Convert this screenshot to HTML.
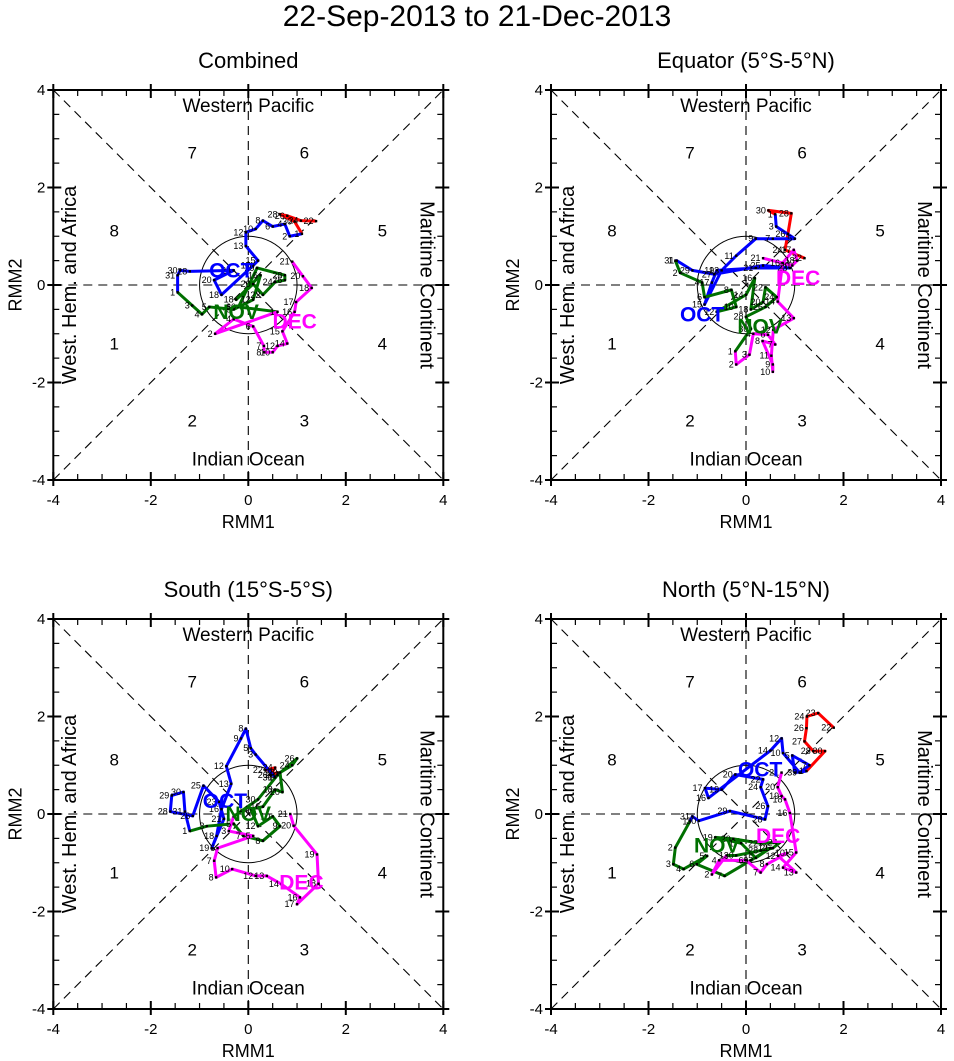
<!DOCTYPE html>
<html><head><meta charset="utf-8"><style>
html,body{margin:0;padding:0;background:#fff;}
svg{display:block;font-family:"Liberation Sans",Helvetica,Arial,sans-serif;}
</style></head><body>
<svg id="chart" width="954" height="1061" viewBox="0 0 954 1061" xmlns="http://www.w3.org/2000/svg">
<text x="477" y="26" text-anchor="middle" font-size="30">22-Sep-2013 to 21-Dec-2013</text>
</svg>
<script>
// ---------- Data (RMM1, RMM2) ----------
const p1SepDays=[22,24,26,28,30];
const p1SepX=[1.39,1.08,0.8,0.65,0.95];
const p1SepY=[1.31,1.32,1.42,1.45,1.3];
const p1OctDays=[1,2,4,6,8,10,12,13,15,17,18,20,24,28,30,31];
const p1OctX=[1.1,0.85,0.75,0.5,0.3,0.15,-0.05,-0.05,0.2,0.1,-0.55,-0.7,-0.3,-1.2,-1.4,-1.45];
const p1OctY=[1.05,1.0,1.25,1.2,1.32,1.15,1.08,0.8,0.5,0.4,-0.2,0.1,0.3,0.28,0.3,0.2];
const p1NovDays=[1,3,4,5,8,12,16,18,20,22,24,26,28,29,30];
const p1NovX=[-1.45,-1.15,-0.95,-0.8,-0.3,0.1,0.25,-0.25,0.1,0.3,0.55,0.75,0.75,0.18,-0.2];
const p1NovY=[-0.15,-0.42,-0.6,-0.45,-0.5,-0.3,0.2,-0.3,0.02,-0.2,0.06,0.1,0.2,0.35,-0.45];
const p1DecDays=[1,2,4,6,7,8,10,12,14,15,16,17,18,20,21];
const p1DecX=[0.6,-0.68,-0.3,0.1,0.32,0.32,0.5,0.6,0.8,0.7,0.95,0.98,1.3,1.12,0.9];
const p1DecY=[-0.55,-1.0,-0.7,-0.85,-1.25,-1.38,-1.38,-1.25,-1.2,-0.95,-0.55,-0.35,-0.06,0.18,0.48];

const p2SepDays=[22,24,26,28,30];
const p2SepX=[1.2,0.8,0.86,0.93,0.46];
const p2SepY=[0.55,0.72,1.05,1.47,1.53];
const p2OctDays=[1,3,5,7,9,11,13,15,17,19,21,23,25,27,29,31];
const p2OctX=[0.6,0.62,1.0,0.55,0.2,-0.2,-0.5,-0.85,-0.7,-0.6,0.2,0.9,0.35,-0.65,-1.1,-1.42];
const p2OctY=[1.45,1.2,0.95,0.95,0.95,0.6,0.3,-0.4,0.05,0.3,0.35,0.35,0.4,0.22,0.3,0.5];
const p2NovDays=[1,2,4,6,8,10,12,14,16,18,20,22,24,26,28,30];
const p2NovX=[-1.45,-1.35,-0.9,-0.85,-0.3,-0.2,-0.6,0.0,0.18,0.1,0.35,0.4,0.63,0.4,0.0,0.1];
const p2NovY=[0.5,0.25,0.05,-0.25,-0.1,-0.45,-0.55,-0.2,0.14,-0.5,-0.35,-0.05,-0.25,-0.45,-0.65,-0.9];
const p2DecDays=[1,2,3,4,6,7,8,9,10,11,12,13,14,16,17,18,20,21];
const p2DecX=[-0.22,-0.2,0.07,0.15,0.45,0.6,0.34,0.55,0.55,0.52,0.56,0.98,0.65,0.75,0.98,1.05,0.95,0.35];
const p2DecY=[-1.36,-1.63,-1.43,-1.0,-1.02,-1.22,-1.15,-1.63,-1.78,-1.45,-0.92,-0.68,-0.34,0.45,0.72,0.5,0.4,0.55];

const p3SepDays=[22,24,26,28,30];
const p3SepX=[0.35,0.55,0.45,0.6,0.55];
const p3SepY=[0.9,0.95,0.8,0.85,0.75];
const p3OctDays=[1,3,5,8,9,12,13,16,18,19,21,23,25,26,28,29,30,31];
const p3OctX=[0.55,0.15,0.05,-0.05,-0.15,-0.45,-0.35,-0.55,-0.65,-0.75,-0.5,-0.6,-0.92,-1.14,-1.6,-1.57,-1.33,-1.3];
const p3OctY=[0.75,1.22,1.35,1.75,1.55,0.98,0.62,0.1,-0.45,-0.7,-0.1,0.25,0.58,-0.04,0.05,0.38,0.45,0.05];
const p3NovDays=[1,3,5,7,8,9,10,12,14,16,18,20,22,24,26,28,30];
const p3NovX=[-1.2,-0.85,-0.3,-0.1,0.3,0.65,0.5,0.2,0.05,0.3,0.55,0.7,0.65,0.9,1.0,0.6,0.2];
const p3NovY=[-0.35,-0.25,-0.2,-0.45,-0.55,-0.25,-0.05,-0.25,0.1,0.15,0.5,0.45,0.85,1.0,1.14,0.8,0.3];
const p3DecDays=[1,3,5,6,7,8,10,12,13,14,16,17,18,19,20,21];
const p3DecX=[-0.3,-0.4,0.1,-0.63,-0.7,-0.66,-0.33,0.15,0.38,0.68,1.06,1.0,1.44,1.41,0.93,0.86];
const p3DecY=[-0.05,-0.35,-0.45,-0.7,-0.96,-1.3,-1.13,-1.27,-1.27,-1.44,-1.71,-1.85,-1.43,-0.83,-0.24,0.0];

const p4SepDays=[22,23,24,26,27,28,30];
const p4SepX=[1.8,1.48,1.25,1.24,1.2,1.38,1.62];
const p4SepY=[1.77,2.07,2.0,1.76,1.49,1.29,1.29];
const p4OctDays=[1,3,5,7,9,10,12,14,16,17,19,20,22,24,26,28,29,30,31];
const p4OctX=[1.24,1.0,0.95,1.3,1.1,0.76,0.73,0.5,-0.77,-0.84,-0.5,-0.22,0.35,0.3,0.45,0.39,-0.33,-0.97,-1.1];
const p4OctY=[0.88,0.85,1.2,1.0,0.85,1.25,1.55,1.3,0.33,0.53,0.5,0.81,0.71,0.55,0.16,-0.11,0.06,-0.14,-0.05];
const p4NovDays=[1,2,3,4,5,6,7,9,12,15,17,19,20,22,24,26,28,30];
const p4NovX=[-1.15,-1.45,-1.49,-1.28,-0.8,-1.01,-0.44,0.1,0.5,0.2,-0.1,-0.63,-0.26,0.3,0.7,0.55,0.3,-0.2];
const p4NovY=[-0.15,-0.69,-1.03,-1.13,-0.86,-1.03,-1.27,-0.95,-0.7,-0.9,-0.6,-0.48,-0.51,-0.6,-0.58,-0.7,-0.75,-0.85];
const p4DecDays=[1,2,4,6,7,8,10,12,13,14,15,16,18,19,20,21];
const p4DecX=[-0.4,-0.7,-0.55,0.0,0.3,0.43,0.85,0.66,1.03,0.76,1.03,0.9,0.8,0.73,0.65,0.73];
const p4DecY=[-0.85,-1.24,-0.95,-0.95,-1.2,-1.03,-0.8,-0.86,-1.2,-1.1,-0.79,0.02,0.3,0.37,0.55,0.85];

const monthColors=['#ff0000','#0000ff','#007000','#ff00ff'];
const monthNames=['OCT','NOV','DEC'];
const tickLabels=['-4','-2','0','2','4'];
const tickValues=[-4,-2,0,2,4];

const panels=[
 {title:'Combined',left:53.3,top:90,months:[[p1SepDays,p1SepX,p1SepY],[p1OctDays,p1OctX,p1OctY],[p1NovDays,p1NovX,p1NovY],[p1DecDays,p1DecX,p1DecY]],mlab:[[-0.35,0.3],[-0.25,-0.55],[0.95,-0.75]]},
 {title:'Equator (5°S-5°N)',left:551,top:90,months:[[p2SepDays,p2SepX,p2SepY],[p2OctDays,p2OctX,p2OctY],[p2NovDays,p2NovX,p2NovY],[p2DecDays,p2DecX,p2DecY]],mlab:[[-0.9,-0.61],[0.29,-0.85],[1.07,0.14]]},
 {title:'South (15°S-5°S)',left:53.3,top:619,months:[[p3SepDays,p3SepX,p3SepY],[p3OctDays,p3OctX,p3OctY],[p3NovDays,p3NovX,p3NovY],[p3DecDays,p3DecX,p3DecY]],mlab:[[-0.48,0.27],[0.0,0.0],[1.09,-1.4]]},
 {title:'North (5°N-15°N)',left:551,top:619,months:[[p4SepDays,p4SepX,p4SepY],[p4OctDays,p4OctX,p4OctY],[p4NovDays,p4NovX,p4NovY],[p4DecDays,p4DecX,p4DecY]],mlab:[[0.29,0.91],[-0.6,-0.65],[0.66,-0.45]]}
];
const NS='http://www.w3.org/2000/svg';
const svg=document.getElementById('chart');
function mk(tag,attrs,parent,text){const e=document.createElementNS(NS,tag);for(const k in attrs)e.setAttribute(k,attrs[k]);if(text!==undefined)e.textContent=text;parent.appendChild(e);return e;}
const S=390/8;
panels.forEach((p,pi)=>{
 const sx=v=>p.left+(v+4)*S, sy=v=>p.top+(4-v)*S;
 const g=mk('g',{},svg);
 
 
 const t=mk('text',{x:sx(0),y:p.top-22,'text-anchor':'middle','font-size':'22'},g,p.title);
 
 
 const dash={stroke:'#000','stroke-width':1.1,'stroke-dasharray':'9,6',fill:'none'};
 [[-4,-4,4,4],[-4,4,4,-4],[-4,0,4,0],[0,-4,0,4]].forEach(l=>{
  const e=mk('line',Object.assign({x1:sx(l[0]),y1:sy(l[1]),x2:sx(l[2]),y2:sy(l[3])},dash),g);
  
  
 });
 const c=mk('circle',{cx:sx(0),cy:sy(0),r:S,fill:'none',stroke:'#000','stroke-width':1},g);
 
 
 const b=mk('rect',{x:sx(-4),y:sy(4),width:8*S,height:8*S,fill:'none',stroke:'#000','stroke-width':2},g);
 
 
 for(let v=-4;v<=4;v+=0.5){
  const major=Number.isInteger(v/2);
  const inn=major?8:6, out=major?6:0;
  const w=major?2:1.2;
  [[sx(v),sy(-4),sx(v),sy(-4)+out,sx(v),sy(-4)-inn],[sx(v),sy(4),sx(v),sy(4)-out,sx(v),sy(4)+inn]].forEach(a=>{mk('line',{x1:a[2],y1:a[3],x2:a[4],y2:a[5],stroke:'#000','stroke-width':w},g);});
  [[sx(-4),sy(v),sx(-4)-out,sx(-4)+inn],[sx(4),sy(v),sx(4)+out,sx(4)-inn]].forEach(a=>{mk('line',{x1:a[2],y1:a[1],x2:a[3],y2:a[1],stroke:'#000','stroke-width':w},g);});
 }
 tickValues.forEach((v,i)=>{
  const tx=mk('text',{x:sx(v),y:sy(-4)+25,'text-anchor':'middle','font-size':'15'},g,tickLabels[i]);
  
  
  const ty=mk('text',{x:sx(-4)-8,y:sy(v)+5,'text-anchor':'end','font-size':'15'},g,tickLabels[i]);
  
  
 });
 const xt=mk('text',{x:sx(0),y:sy(-4)+48,'text-anchor':'middle','font-size':'18'},g,'RMM1');
 
 
 const yt=mk('text',{x:0,y:0,'text-anchor':'middle','font-size':'18',transform:`translate(${sx(-4)-32},${sy(0)}) rotate(-90)`},g,'RMM2');
 
 
 const r1=mk('text',{x:sx(0),y:sy(3.55),'text-anchor':'middle','font-size':'19'},g,'Western Pacific');
 
 
 const r2=mk('text',{x:sx(0),y:sy(-3.7),'text-anchor':'middle','font-size':'19'},g,'Indian Ocean');
 
 
 const r3=mk('text',{x:0,y:0,'text-anchor':'middle','font-size':'20',transform:`translate(${sx(-3.53)},${sy(0)}) rotate(-90)`},g,'West. Hem. and Africa');
 
 
 const r4=mk('text',{x:0,y:0,'text-anchor':'middle','font-size':'20',transform:`translate(${sx(3.53)},${sy(0)}) rotate(90)`},g,'Maritime Continent');
 
 
 [[7,-1.15,2.72],[6,1.15,2.72],[8,-2.75,1.12],[5,2.75,1.12],[1,-2.75,-1.2],[4,2.75,-1.2],[2,-1.15,-2.78],[3,1.15,-2.78]].forEach(q=>{
  const e=mk('text',{x:sx(q[1]),y:sy(q[2])+6,'text-anchor':'middle','font-size':'17'},g,String(q[0]));
  
  
 });
 const pts=p.months.map(m=>m[1].map((x,i)=>[sx(x),sy(m[2][i])]));
 p.months.forEach((m,mi)=>{
  let arr=pts[mi].slice();
  if(mi<3&&pts[mi+1].length) arr.push(pts[mi+1][0]);
  const pl=mk('polyline',{points:arr.map(a=>a.join(',')).join(' '),fill:'none',stroke:monthColors[mi],'stroke-width':3,'stroke-linejoin':'round'},g);
  
  
 });
 p.months.forEach((m,mi)=>{
  m[0].forEach((d,i)=>{
   const [x,y]=pts[mi][i];
   const dot=mk('rect',{x:x-1.2,y:y-1.2,width:2.4,height:2.4,fill:'#000'},g);
   
   
   const lb=mk('text',{x:x-2.5,y:y+3,'text-anchor':'end','font-size':'9'},g,String(d));
   
   
  });
 });
 p.mlab.forEach((q,i)=>{
  const e=mk('text',{x:sx(q[0]),y:sy(q[1])+7,'text-anchor':'middle','font-size':'21','font-weight':'bold',fill:monthColors[i+1]},g,monthNames[i]);
  
  
 });
});
</script>
</body></html>
